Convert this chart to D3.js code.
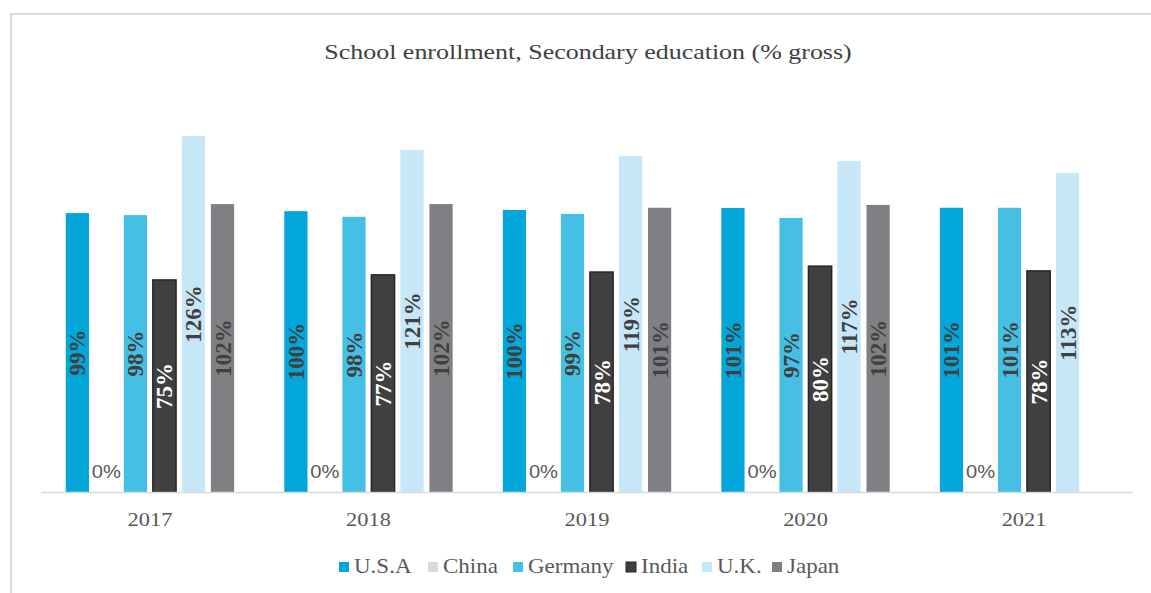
<!DOCTYPE html>
<html>
<head>
<meta charset="utf-8">
<script src="https://cdn.jsdelivr.net/npm/d3@7"></script>
<style>
  html, body { margin: 0; padding: 0; background: #fff; }
  svg { display: block; }
</style>
</head>
<body>
<svg id="chart" width="1151" height="593"></svg>
<script>
const title = "School enrollment, Secondary education (% gross)";
const years = ["2017", "2018", "2019", "2020", "2021"];
const seriesNames = ["U.S.A", "China", "Germany", "India", "U.K.", "Japan"];
const usa     = [98.9, 99.6, 100.0, 100.7, 100.8];
const china   = [0, 0, 0, 0, 0];
const germany = [98.2, 97.6, 98.6, 97.2, 100.8];
const india   = [75.2, 77.0, 78.0, 80.1, 78.4];
const uk      = [126.2, 121.3, 119.1, 117.4, 113.1];
const japan   = [102.1, 102.1, 100.8, 101.8, null];
const seriesValues = [usa, china, germany, india, uk, japan];
const colors = ["#02A6D8", "#D9D9D9", "#46BFE5", "#404040", "#C6E7F7", "#7F8084"];

const SX = 1.18; // horizontal stretch of text seen in the reference
const svg = d3.select("#chart");

// chart border (top & left visible)
svg.append("line").attr("x1", 11).attr("x2", 1151).attr("y1", 14).attr("y2", 14)
  .attr("stroke", "#D9D9D9").attr("stroke-width", 2);
svg.append("line").attr("x1", 11).attr("x2", 11).attr("y1", 13).attr("y2", 593)
  .attr("stroke", "#D9D9D9").attr("stroke-width", 2);

svg.append("text").attr("transform", `translate(588,59) scale(${SX},1)`).attr("text-anchor", "middle")
  .attr("font-family", "Liberation Serif, Times New Roman, serif")
  .attr("font-size", 22).attr("fill", "#404040").text(title);

const x0 = d3.scaleBand().domain(years).range([41, 1133]).paddingInner(0.203).paddingOuter(0.1);
const x1 = d3.scaleBand().domain(seriesNames).range([0, x0.bandwidth()]).paddingInner(0.2).paddingOuter(0.1);
const y = d3.scaleLinear().domain([0, 100]).range([492, 210]);

const data = [];
years.forEach((yr, i) => {
  seriesNames.forEach((s, j) => {
    const v = seriesValues[j][i];
    if (v !== null && v !== undefined) data.push({year: yr, series: s, idx: j, value: v});
  });
});

const g = svg.append("g");
g.selectAll("rect").data(data.filter(d => d.value > 0)).join("rect")
  .attr("x", d => x0(d.year) + x1(d.series))
  .attr("y", d => y(d.value))
  .attr("width", x1.bandwidth())
  .attr("height", d => y(0) - y(d.value))
  .attr("fill", d => colors[d.idx])
  .attr("stroke", d => d.series === "India" ? "#262626" : "none")
  .attr("stroke-width", d => d.series === "India" ? 1.5 : 0);

// axis line
svg.append("line").attr("x1", 41).attr("x2", 1133).attr("y1", y(0) + 0.5).attr("y2", y(0) + 0.5)
  .attr("stroke", "#D9D9D9").attr("stroke-width", 1.5);

// value labels
const labelColor = s => s === "India" ? "#FFFFFF" : "#404040";
data.forEach(d => {
  const cx = x0(d.year) + x1(d.series) + x1.bandwidth() / 2;
  const label = Math.round(d.value) + "%";
  if (d.value > 0) {
    const cy = (y(0) + y(d.value)) / 2;
    svg.append("text")
      .attr("transform", `translate(${cx + 8},${cy}) rotate(-90)`)
      .attr("text-anchor", "middle")
      .attr("font-family", "Liberation Serif, Times New Roman, serif")
      .attr("font-weight", "bold")
      .attr("font-size", 23)
      .attr("fill", labelColor(d.series))
      .text(label);
  } else {
    svg.append("text")
      .attr("transform", `translate(${cx},${y(0) - 14}) scale(${SX * 0.95},1)`)
      .attr("text-anchor", "middle")
      .attr("font-family", "Liberation Sans, Arial, sans-serif")
      .attr("font-size", 18)
      .attr("fill", "#595959")
      .text(label);
  }
});

// x axis labels
const xAxis = d3.axisBottom(x0).tickSize(0).tickPadding(0);
const ax = svg.append("g").attr("transform", `translate(0,${y(0)})`).call(xAxis);
ax.select(".domain").remove();
ax.selectAll("text")
  .attr("dy", null).attr("y", 34)
  .attr("transform", `scale(${SX},1)`)
  .attr("font-family", "Liberation Serif, Times New Roman, serif")
  .attr("font-size", 19).attr("fill", "#595959");

// legend
const legendX = [339, 428, 513, 626, 702, 772];
const leg = svg.append("g");
seriesNames.forEach((s, j) => {
  leg.append("rect").attr("x", legendX[j]).attr("y", 562).attr("width", 10).attr("height", 10)
    .attr("fill", colors[j])
    .attr("stroke", s === "India" ? "#262626" : "none").attr("stroke-width", 1);
  leg.append("text").attr("transform", `translate(${legendX[j] + 15},573) scale(1.15,1)`)
    .attr("font-family", "Liberation Serif, Times New Roman, serif")
    .attr("font-size", 20).attr("fill", "#595959").text(s);
});
</script>
</body>
</html>
